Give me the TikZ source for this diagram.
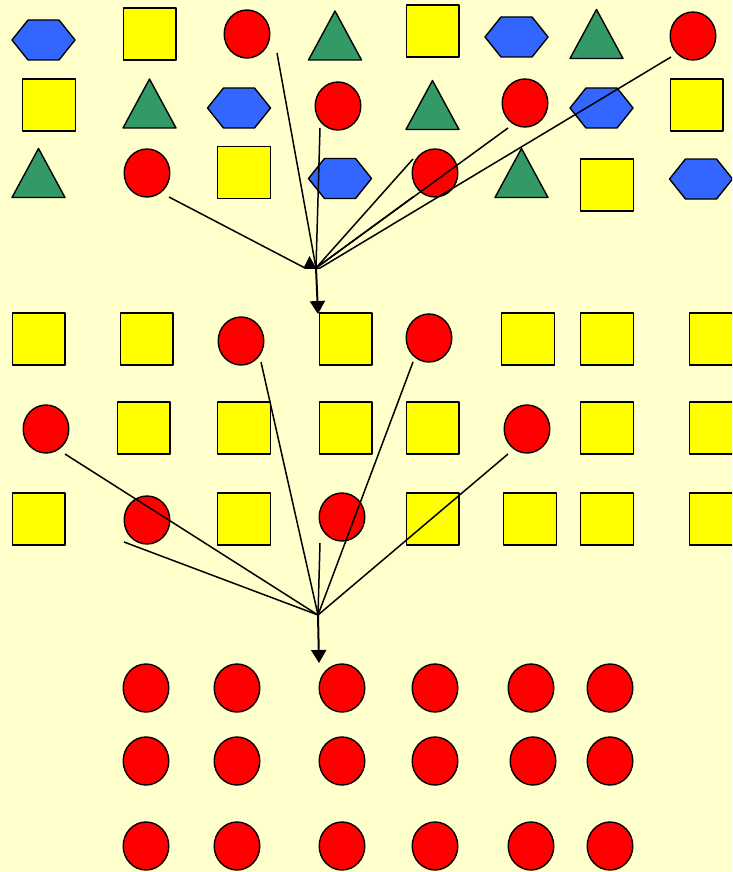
\documentclass[tikz,border=0pt]{standalone}
\usetikzlibrary{arrows.meta}
\definecolor{bgc}{HTML}{FFFFCC}
\definecolor{sqyellow}{HTML}{FFFF00}
\definecolor{dotred}{HTML}{FF0000}
\definecolor{hexblue}{HTML}{3366FF}
\definecolor{trigreen}{HTML}{339966}
\begin{document}
\begin{tikzpicture}[x=1pt,y=-1pt,
 shp/.style={draw=black,line width=1.4pt,line join=round},
 con/.style={draw=black,line width=1.5pt},
 bigarrow/.style={draw=black,line width=2pt,-{Triangle[width=15pt,length=13pt]}},
 pics/hexa/.style={code={\path[shp,fill=hexblue] (-31.5,0)--(-15.5,-20)--(15.5,-20)--(31.5,0)--(15.5,20)--(-15.5,20)--cycle;}},
 pics/tri/.style={code={\path[shp,fill=trigreen] (0,-24.5)--(26.5,24.5)--(-26.5,24.5)--cycle;}},
 pics/sq/.style={code={\path[shp,fill=sqyellow] (-26.3,-26) rectangle (26.3,26);}},
 pics/dot/.style={code={\path[shp,fill=dotred] (0,0) ellipse [x radius=22.8pt, y radius=24pt];}},
]
\useasboundingbox (0,0) rectangle (732,872);
\fill[bgc] (0,0) rectangle (732,872);
\clip (0,0) rectangle (732,872);

% ---- top section ----
\pic at (43.5,40) {hexa};
\pic at (149.5,34) {sq};
\pic at (247,34) {dot};
\pic at (335,35.5) {tri};
\pic at (432.5,31) {sq};
\pic at (516.5,37) {hexa};
\pic at (596.5,34) {tri};
\pic at (693,36) {dot};

\pic at (49,105) {sq};
\pic at (149.5,103.5) {tri};
\pic at (239,108) {hexa};
\pic at (338,106) {dot};
\pic at (432.5,105) {tri};
\pic at (525,103) {dot};
\pic at (601.5,108) {hexa};
\pic at (696.5,105) {sq};

\pic at (38.5,173) {tri};
\pic at (147,173) {dot};
\pic at (244,172.5) {sq};
\pic at (340,178.5) {hexa};
\pic at (435,173) {dot};
\pic at (521.5,173) {tri};
\pic at (607,185) {sq};
\pic at (701,179) {hexa};

% ---- middle section ----
\foreach \x in {38.5,146.5,345.5,528,607,716} \pic at (\x,339) {sq};
\pic at (241,341) {dot};
\pic at (429,338) {dot};

\foreach \x in {143.5,244,345.5,432.5,607,716} \pic at (\x,428) {sq};
\pic at (46,429) {dot};
\pic at (527,429) {dot};

\foreach \x in {38.5,244,432.5,530,607,716} \pic at (\x,519) {sq};
\pic at (147,520) {dot};
\pic at (342,517) {dot};

% ---- bottom section ----
\foreach \y in {688,846} \foreach \x in {146,237,342,435,531,610} \pic at (\x,\y) {dot};
\foreach \x in {146,237,342,435,533,610} \pic at (\x,761) {dot};

% ---- connectors top ----
\coordinate (hubA) at (316,268);
\coordinate (hubAl) at (305,268);
\coordinate (hubAr) at (320,268);
\coordinate (t1) at (169,197);
\coordinate (t2) at (277,53);
\coordinate (t3) at (320,128);
\coordinate (t4) at (413,159);
\coordinate (t5) at (508,128);
\coordinate (t6) at (671,57);
\coordinate (t7) at (413,197);
\draw[con] (t1) -- (hubAl) -- (hubAr);
\draw[con] (t2) -- (hubA);
\draw[con] (t3) -- (hubA);
\draw[con] (t4) -- (hubA);
\draw[con] (t5) -- (hubA);
\draw[con] (t7) -- (hubA);
\draw[con] (t6) -- (hubAr);
\coordinate (upA) at (309.5,256);
\coordinate (upB) at (303.5,268);
\coordinate (upC) at (316,268);
\fill (upA) -- (upC) -- (upB) -- cycle;
\coordinate (tipA) at (318,314);
\draw[bigarrow] (hubA) -- (tipA);

% ---- connectors middle ----
\coordinate (hubB) at (318,615);
\coordinate (m1) at (65,454);
\coordinate (m2) at (124,542);
\coordinate (m3) at (261,362);
\coordinate (m4) at (320,543);
\coordinate (m5) at (413,362);
\coordinate (m6) at (508,454);
\foreach \m in {m1,m2,m3,m4,m5,m6} \draw[con] (\m) -- (hubB);
\coordinate (tipB) at (319,663);
\draw[bigarrow] (hubB) -- (tipB);
\end{tikzpicture}
\end{document}
